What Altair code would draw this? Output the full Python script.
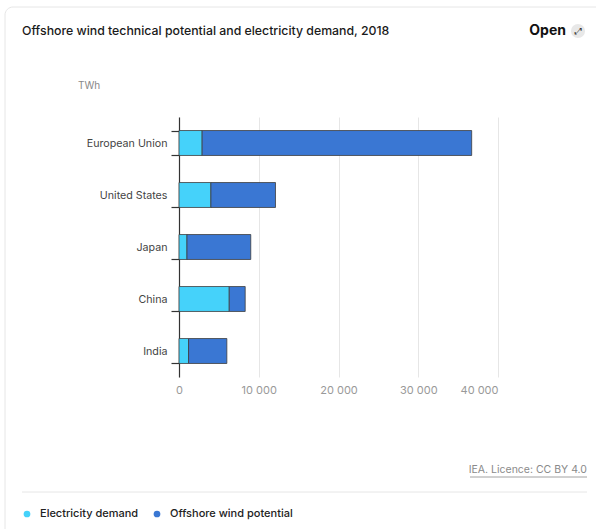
import altair as alt
import pandas as pd

countries = ["European Union", "United States", "Japan", "China", "India"]
demand = [2900, 4000, 1000, 6300, 1200]
potential = [33800, 8100, 8000, 2000, 4800]
series = ["Electricity demand", "Offshore wind potential"]
colors = ["#45d2fa", "#3a77d3"]
x_ticks = [0, 10000, 20000, 30000, 40000]

rows = []
for c, d, p in zip(countries, demand, potential):
    rows.append({"country": c, "series": series[0], "value": d, "ord": 0})
    rows.append({"country": c, "series": series[1], "value": p, "ord": 1})
df = pd.DataFrame(rows)

FONT = "Inter"
W, H = 319, 260
TOP = 117

bars = alt.Chart(df).mark_bar(stroke="#3d3d3d", strokeWidth=0.8).encode(
    x=alt.X("sum(value):Q", stack="zero",
            scale=alt.Scale(domain=[0, 40000], nice=False),
            axis=alt.Axis(title=None, values=x_ticks, domain=False, ticks=False,
                          grid=True, gridColor="#e6e6e6", gridWidth=1,
                          labelColor="#999999", labelFontSize=11, labelFont=FONT,
                          labelPadding=7, labelFlush=False,
                          labelAlign={"condition": {"test": "datum.value == 40000", "value": "right"},
                                      "value": "center"},
                          labelExpr="datum.value == 0 ? '0' : format(datum.value/1000, 'd') + ' 000'")),
    y=alt.Y("country:N", sort=countries,
            scale=alt.Scale(paddingInner=0.52, paddingOuter=0.26),
            axis=alt.Axis(title=None, domainColor="#333333", domainWidth=1.2,
                          tickColor="#333333", tickSize=8, tickWidth=1.2, tickBand="extent",
                          labelColor="#444444", labelFontSize=10.7, labelFont=FONT,
                          labelPadding=4, grid=False)),
    color=alt.Color("series:N", scale=alt.Scale(domain=series, range=colors), legend=None),
    order=alt.Order("ord:Q"),
)

one = pd.DataFrame({"a": [0]})
base = alt.Chart(one)
dy = 116 - TOP

card = base.mark_rect(fillOpacity=0, stroke="#e6e6e6", strokeWidth=1, cornerRadius=8).encode(
    x=alt.value(-174), x2=alt.value(425), y=alt.value(-109 + dy), y2=alt.value(425))

title = base.mark_text(text="Offshore wind technical potential and electricity demand, 2018",
                       align="left", baseline="middle", font=FONT, fontSize=12.3,
                       fontWeight=500, color="#1a1a1a").encode(x=alt.value(-157), y=alt.value(-85 + dy))
open_t = base.mark_text(text="Open", align="right", baseline="middle", font=FONT, fontSize=14,
                        fontWeight=700, color="#111111").encode(x=alt.value(387), y=alt.value(-85 + dy))
icon_bg = base.mark_point(filled=True, shape="circle", size=200, color="#e8e8e8", opacity=1).encode(
    x=alt.value(399), y=alt.value(-85 + dy))
icon = base.mark_text(text="⤢", align="center", baseline="middle", font="DejaVu Sans",
                      fontSize=9, color="#333333").encode(x=alt.value(399), y=alt.value(-85 + dy))
unit = base.mark_text(text="TWh", align="left", baseline="middle", font=FONT, fontSize=10,
                      color="#888888").encode(x=alt.value(-101), y=alt.value(-30 + dy))
lic = base.mark_text(text="IEA. Licence: CC BY 4.0", align="right", baseline="middle", font=FONT,
                     fontSize=10.5, color="#8a8a8a").encode(x=alt.value(408), y=alt.value(354 + dy))
lic_ul = base.mark_rule(color="#8a8a8a", strokeWidth=0.8).encode(
    x=alt.value(291), x2=alt.value(408), y=alt.value(361 + dy))
sep = base.mark_rule(color="#e6e6e6", strokeWidth=1).encode(
    x=alt.value(-157), x2=alt.value(408), y=alt.value(376 + dy))
dot1 = base.mark_point(filled=True, shape="circle", size=45, color=colors[0], opacity=1).encode(
    x=alt.value(-152), y=alt.value(398 + dy))
lab1 = base.mark_text(text=series[0], align="left", baseline="middle", font=FONT, fontSize=11,
                      fontWeight=500, color="#222222").encode(x=alt.value(-139), y=alt.value(398 + dy))
dot2 = base.mark_point(filled=True, shape="circle", size=45, color=colors[1], opacity=1).encode(
    x=alt.value(-22), y=alt.value(398 + dy))
lab2 = base.mark_text(text=series[1], align="left", baseline="middle", font=FONT, fontSize=11,
                      fontWeight=500, color="#222222").encode(x=alt.value(-9), y=alt.value(398 + dy))

chart = alt.layer(card, bars, title, open_t, icon_bg, icon, unit, lic, lic_ul, sep,
                  dot1, lab1, dot2, lab2).properties(
    width=W, height=H,
    autosize=alt.AutoSizeParams(type="none"),
    padding={"left": 179, "top": TOP, "right": 596 - 179 - W, "bottom": 529 - TOP - H},
    background="white",
).configure_view(strokeWidth=0)

chart.save("out.html", embed_options={"renderer": "svg", "actions": False})
